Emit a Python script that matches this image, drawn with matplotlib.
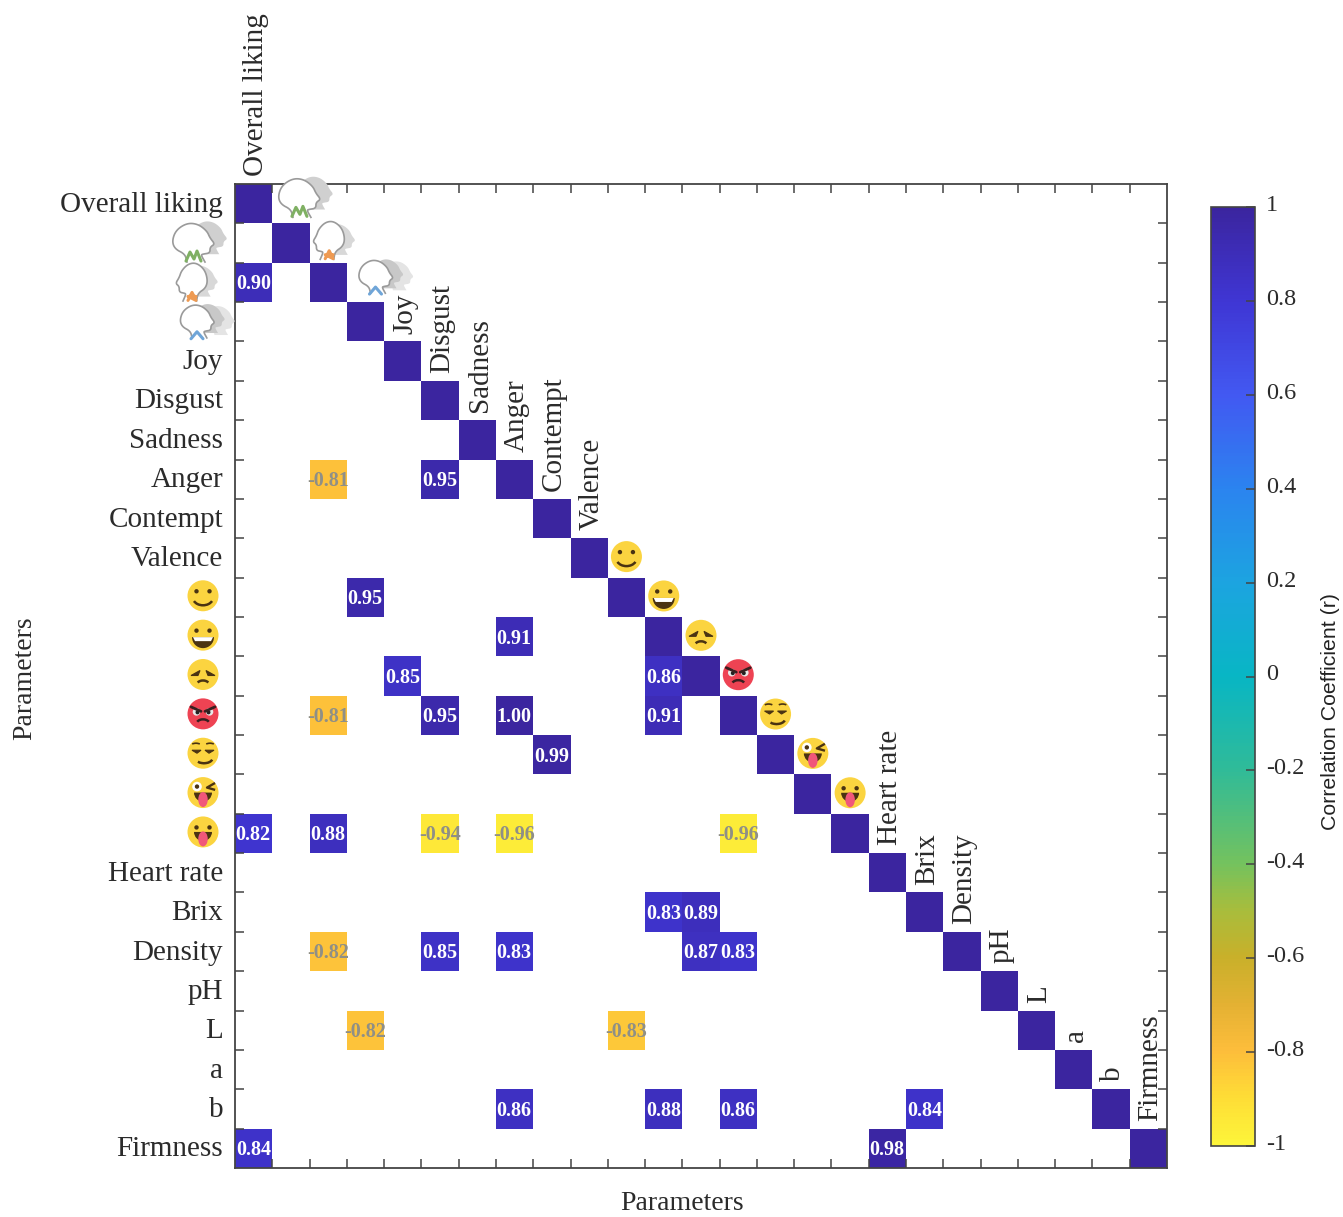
# corr_matrix_plot.py
""" Lower triangle correlation matrix, only significant cells are kept """

import numpy as np
import matplotlib
matplotlib.use('Agg')
import matplotlib.pyplot as plt
from matplotlib.colors import LinearSegmentedColormap
from matplotlib.patches import Arc, Circle, Polygon, Wedge, Ellipse
from matplotlib.transforms import ScaledTranslation

# Parameters
param_labels = ['Overall liking', 'icon_green', 'icon_orange', 'icon_blue', 'Joy', 'Disgust',
                'Sadness', 'Anger', 'Contempt', 'Valence', 'smile', 'grin', 'sad', 'angry',
                'smirk', 'wink', 'tongue', 'Heart rate', 'Brix', 'Density', 'pH', 'L', 'a',
                'b', 'Firmness']
sig_rows = [2, 7, 7, 10, 11, 12, 12, 13, 13, 13, 13, 14, 16, 16, 16, 16, 16, 18, 18, 19, 19, 19,
            19, 19, 21, 21, 23, 23, 23, 23, 24, 24]
sig_cols = [0, 2, 5, 3, 7, 4, 11, 2, 5, 7, 11, 8, 0, 2, 5, 7, 13, 11, 12, 2, 5, 7, 12, 13, 3, 10,
            7, 11, 13, 18, 0, 17]
sig_values = [0.90, -0.81, 0.95, 0.95, 0.91, 0.85, 0.86, -0.81, 0.95, 1.00, 0.91, 0.99, 0.82,
              0.88, -0.94, -0.96, -0.96, 0.83, 0.89, -0.82, 0.85, 0.83, 0.87, 0.83, -0.82, -0.83,
              0.86, 0.88, 0.86, 0.84, 0.84, 0.98]
cbar_ticks = [1, 0.8, 0.6, 0.4, 0.2, 0, -0.2, -0.4, -0.6, -0.8, -1]
cbar_ticklabels = ['1', '0.8', '0.6', '0.4', '0.2', '0', '-0.2', '-0.4', '-0.6', '-0.8', '-1']

W, H = 1343, 1217
SERIF = 'Liberation Serif'
TXT = '#2b2b2b'
DARK = '#4a3312'
YEL = '#fbd440'

# flipped parula like map
parula = LinearSegmentedColormap.from_list('parula_r', [
    (0.00, '#fdf53a'), (0.05, '#fedd36'), (0.10, '#fdbd3b'), (0.15, '#e3b133'),
    (0.20, '#c9b02a'), (0.25, '#a8bd3c'), (0.30, '#74c25e'), (0.40, '#30bb98'),
    (0.50, '#08b6c4'), (0.60, '#1ca4e0'), (0.70, '#2b84ef'), (0.80, '#4259f2'),
    (0.90, '#3f36d4'), (1.00, '#3b259f')])

n = len(param_labels)
corr = np.full((n, n), np.nan)
corr[np.arange(n), np.arange(n)] = 1.0
corr[sig_rows, sig_cols] = sig_values

fig = plt.figure(figsize=(W / 100, H / 100), dpi=100)
ax = fig.add_axes([235 / W, 1 - 1168 / H, 932 / W, 984 / H])
mesh = ax.pcolormesh(np.arange(n + 1), np.arange(n + 1), np.ma.masked_invalid(corr),
                     cmap=parula, vmin=-1, vmax=1)
ax.set_xlim(0, n)
ax.set_ylim(n, 0)

# ticks on the cell borders, row names on the minor ticks
ax.set_xticks(np.arange(1, n))
ax.set_yticks(np.arange(1, n))
ax.set_xticklabels([])
ax.set_yticklabels([])
ax.tick_params(which='major', direction='in', length=6.5, width=1.1, color='#444444',
               top=True, right=True)
row_names = [s if not (s.startswith('icon') or s in ('smile', 'grin', 'sad', 'angry', 'smirk',
                                                     'wink', 'tongue')) else '' for s in param_labels]
ax.set_yticks(np.arange(n) + 0.5, minor=True)
ax.set_yticklabels(row_names, minor=True, fontfamily=SERIF, fontsize=21, color=TXT)
ax.tick_params(which='minor', length=0, pad=8.5)
up2 = ScaledTranslation(0, 0.02, fig.dpi_scale_trans)
for t in ax.get_yticklabels(minor=True):
    t.set_transform(t.get_transform() + up2)
for sp in ax.spines.values():
    sp.set_linewidth(1.3)
    sp.set_color('#444444')

# column names sit just above the diagonal
for i, name in enumerate(row_names):
    if name:
        ax.text(i + 0.56, i - 0.2, name, rotation=90, ha='center', va='bottom',
                fontfamily=SERIF, fontsize=21, color=TXT, clip_on=False)

# numbers
for r, c, v in zip(sig_rows, sig_cols, sig_values):
    col = 'white' if v > 0 else '#8f8f86'
    ax.text(c + 0.49, r + 0.55, f'{v:.2f}', ha='center', va='center', color=col,
            fontfamily=SERIF, fontsize=14.5, fontweight='bold')

fig.text(682 / W, 1 - 1210 / H, 'Parameters', ha='center', va='baseline', fontfamily=SERIF,
         fontsize=20, color=TXT)
fig.text(25 / W, 1 - 678 / H, 'Parameters', ha='center', va='center', rotation=90,
         fontfamily=SERIF, fontsize=20, color=TXT)

# Colorbar
cax = fig.add_axes([1211 / W, 1 - 1146 / H, 44 / W, 939 / H])
cb = fig.colorbar(mesh, cax=cax)
cb.set_ticks(cbar_ticks)
cb.set_ticklabels(cbar_ticklabels)
cax.tick_params(direction='in', length=6.5, width=1.1, color='#444444', pad=8, labelsize=17.5,
                labelcolor=TXT)
up4 = ScaledTranslation(0, 0.04, fig.dpi_scale_trans)
for t in cax.get_yticklabels():
    t.set_fontfamily(SERIF)
    t.set_transform(t.get_transform() + up4)
cb.outline.set_edgecolor('#444444')
cb.outline.set_linewidth(1.2)
fig.text(1331 / W, 1 - 712 / H, 'Correlation Coefficient (r)', rotation=90, ha='center',
         va='center', fontfamily='Liberation Sans', fontsize=15.3, color='#222222')

# Overlay in pixels for the pictograms
ov = fig.add_axes([0, 0, 1, 1], zorder=5)
ov.set_xlim(0, W)
ov.set_ylim(0, H)
ov.axis('off')
ov.patch.set_visible(False)


def mouth_open(cx, cy, r=9):
    ov.add_patch(Wedge((cx, cy), r, 180, 360, fc=DARK, ec='none'))
    ov.add_patch(Ellipse((cx, cy - 7), 9.5, 15, fc='#f0577a', ec='none'))


def draw_emoji(x, y, kind):
    face = '#ee4353' if kind == 'angry' else YEL
    ov.add_patch(Circle((x, y), 15.5, fc=face, ec='none'))
    if kind in ('smile', 'grin', 'tongue'):
        for s in (-1, 1):
            ov.add_patch(Circle((x + s * 6.5, y + 4.5), 2.2, fc=DARK, ec='none'))
    if kind == 'smile':
        ov.add_patch(Arc((x, y - 2), 20, 15, theta1=200, theta2=340, color=DARK, lw=1.8))
    elif kind == 'grin':
        ov.add_patch(Wedge((x, y - 2), 11, 180, 360, fc=DARK, ec='none'))
        ov.add_patch(Polygon([(x - 10, y - 2), (x + 10, y - 2), (x + 8, y - 6), (x - 8, y - 6)],
                             fc='white', ec='none'))
    elif kind == 'sad':
        for s in (-1, 1):
            ov.add_patch(Polygon([(x + s * 3, y + 4), (x + s * 12, y - 1), (x + s * 5, y - 1)],
                                 fc=DARK, ec=DARK, lw=0.8))
        ov.add_patch(Arc((x, y - 10), 12, 8, theta1=20, theta2=160, color=DARK, lw=1.8))
    elif kind == 'angry':
        for s in (-1, 1):
            ov.add_patch(Circle((x + s * 6.5, y + 2), 3.8, fc='#e8e8e8', ec='none'))
            ov.add_patch(Circle((x + s * 5.5, y + 1.5), 2, fc='#222222', ec='none'))
            ov.plot([x + s * 2, x + s * 12], [y + 2.5, y + 7], color='#3a2020', lw=2,
                    solid_capstyle='round')
        ov.add_patch(Arc((x, y - 10), 13, 9, theta1=20, theta2=160, color='#3a2020', lw=1.8))
    elif kind == 'smirk':
        for s in (-1, 1):
            ov.add_patch(Arc((x + s * 7, y + 7), 11, 6, theta1=30, theta2=150, color=DARK, lw=1.2))
            ov.add_patch(Polygon([(x + s * 2, y + 3), (x + s * 11, y + 3), (x + s * 6, y + 0)],
                                 fc=DARK, ec=DARK, lw=0.8))
        ov.add_patch(Arc((x + 1, y - 5), 17, 10, theta1=210, theta2=350, color=DARK, lw=1.8))
    elif kind == 'wink':
        ov.add_patch(Circle((x - 6, y + 6), 4.8, fc='white', ec='none'))
        ov.add_patch(Circle((x - 6, y + 6), 2.2, fc=DARK, ec='none'))
        ov.plot([x + 11, x + 4, x + 11], [y + 9, y + 5, y + 3], color=DARK, lw=1.7)
        mouth_open(x, y)
    elif kind == 'tongue':
        mouth_open(x, y)


def chaikin(pts, rounds=3):
    # corner cutting, keeps the two neck ends
    for _ in range(rounds):
        q = 0.75 * pts[:-1] + 0.25 * pts[1:]
        r = 0.25 * pts[:-1] + 0.75 * pts[1:]
        mid = np.empty((2 * len(q), 2))
        mid[0::2], mid[1::2] = q, r
        pts = np.vstack([pts[0], mid, pts[-1]])
    return pts


HEAD = chaikin(np.array([(-6, -19), (-8, -11), (-18, -6), (-21, 2), (-17, 13), (-6, 20), (5, 19),
                         (14, 12), (17, 5), (22, -1), (17, -4), (17, -10), (10, -11), (8, -12),
                         (12, -19)], dtype=float))


def draw_head(x, y, kind):
    if kind == 'icon_green':
        pts = HEAD
        shadows = [(16, 5, 0.85, '#d0d0d0')]
        mark = '#7fb063'
        mx = [-7, -3, 1, 4, 8]
        my = [-18, -9, -16, -8, -18]
    elif kind == 'icon_orange':
        pts = HEAD * [-0.75, 0.98]
        shadows = [(9, 1, 0.8, '#d8d8d8')]
        mark = '#ee9a52'
        mx = [-4, 0, 4, -4, 4]
        my = [-18, -10, -18, -14, -14]
    else:
        pts = HEAD * [0.82, 0.85]
        shadows = [(22, 1, 0.75, '#e4e4e4'), (12, 3, 0.75, '#c8c8c8')]
        mark = '#6fa5d8'
        mx = [-6, 0, 6]
        my = [-17, -10, -17]
    for dx, dy, sc, col in shadows:
        ov.add_patch(Polygon(HEAD * sc + [x + dx, y + dy], closed=True, fc=col, ec='none'))
    ring = pts + [x, y]
    ov.add_patch(Polygon(ring, closed=True, fc='white', ec='none'))
    ov.plot(ring[:, 0], ring[:, 1], color='#9a9a9a', lw=1.2, solid_joinstyle='round')
    ov.plot([x + a for a in mx], [y + b for b in my], color=mark, lw=2.2, solid_capstyle='round')


def cell_to_px(col, row):
    return ax.transData.transform((col, row))


pict_pos = {'icon_green': (8, 25), 'icon_orange': (1, 22), 'icon_blue': (10, 25)}
pict_left = {'icon_green': 193, 'icon_orange': 192, 'icon_blue': 197}
for i, name in enumerate(param_labels):
    if name.startswith('icon'):
        px, py = cell_to_px(0, i + 0.5)
        draw_head(pict_left[name], py, name)
        px, py = cell_to_px(i + 0.5, i)
        draw_head(px + pict_pos[name][0], py + pict_pos[name][1], name)
    elif not row_names[i]:
        px, py = cell_to_px(0, i + 0.5)
        draw_emoji(203, py + 1.5, name)
        px, py = cell_to_px(i + 0.5, i)
        draw_emoji(px, py + 21, name)

fig.savefig('out.png', dpi=100)
